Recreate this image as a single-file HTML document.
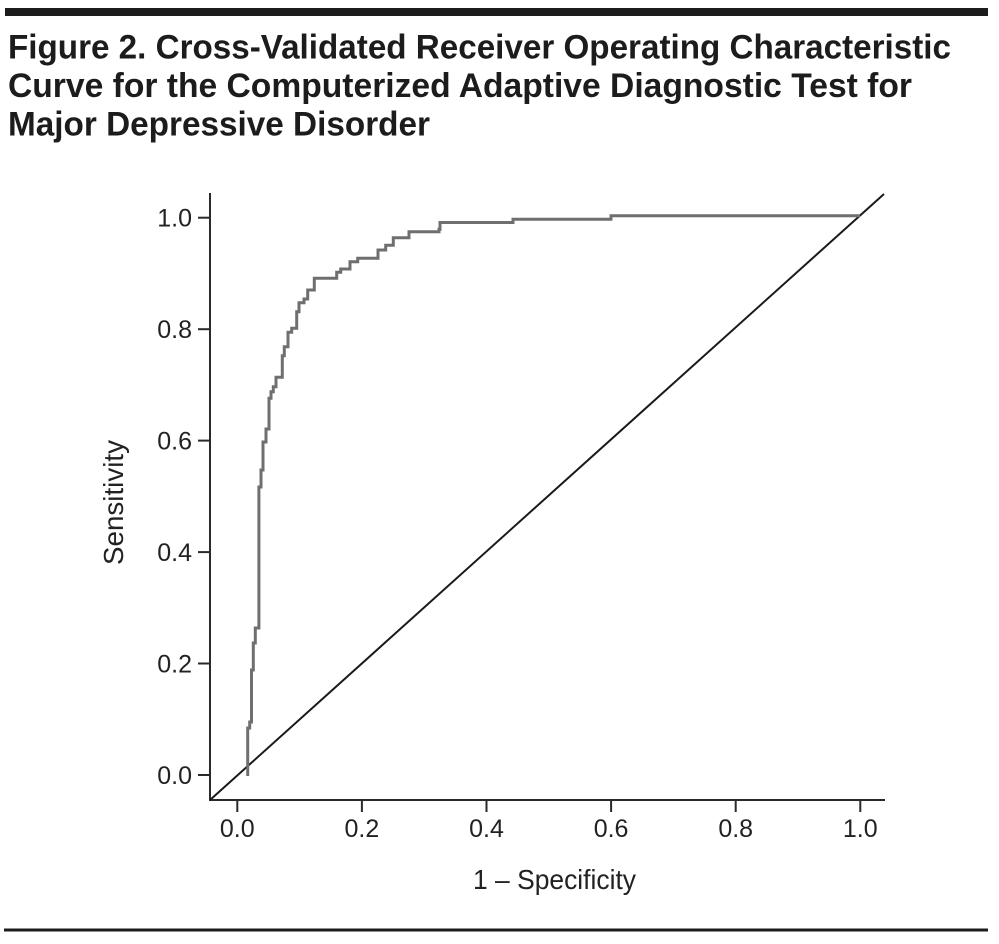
<!DOCTYPE html>
<html>
<head>
<meta charset="utf-8">
<style>
html,body{margin:0;padding:0;background:#fff;}
svg{display:block;}
</style>
</head>
<body>
<svg width="999" height="944" viewBox="0 0 999 944" xmlns="http://www.w3.org/2000/svg">
  <!-- top bar -->
  <rect x="5" y="8" width="983" height="8" fill="#1c1c1c"/>
  <!-- title -->
  <g font-family="Liberation Sans, sans-serif" font-weight="bold" font-size="34" fill="#1c1c1c">
    <text x="8" y="58.5" textLength="943" lengthAdjust="spacingAndGlyphs">Figure 2. Cross-Validated Receiver Operating Characteristic</text>
    <text x="8" y="97" textLength="904" lengthAdjust="spacingAndGlyphs">Curve for the Computerized Adaptive Diagnostic Test for</text>
    <text x="8" y="135.5" textLength="422" lengthAdjust="spacingAndGlyphs">Major Depressive Disorder</text>
  </g>

  <!-- axes -->
  <g stroke="#2a2a2a" stroke-width="2" fill="none">
    <line x1="210" y1="193" x2="210" y2="801"/>
    <line x1="209" y1="800" x2="885" y2="800"/>
    <!-- y ticks -->
    <line x1="198" y1="775" x2="210" y2="775"/>
    <line x1="198" y1="663.5" x2="210" y2="663.5"/>
    <line x1="198" y1="552.1" x2="210" y2="552.1"/>
    <line x1="198" y1="440.6" x2="210" y2="440.6"/>
    <line x1="198" y1="329.2" x2="210" y2="329.2"/>
    <line x1="198" y1="217.7" x2="210" y2="217.7"/>
    <!-- x ticks -->
    <line x1="237.3" y1="800" x2="237.3" y2="812"/>
    <line x1="361.9" y1="800" x2="361.9" y2="812"/>
    <line x1="486.5" y1="800" x2="486.5" y2="812"/>
    <line x1="611.1" y1="800" x2="611.1" y2="812"/>
    <line x1="735.7" y1="800" x2="735.7" y2="812"/>
    <line x1="860.3" y1="800" x2="860.3" y2="812"/>
  </g>

  <!-- tick labels -->
  <g font-family="Liberation Sans, sans-serif" font-size="25" fill="#222">
    <g text-anchor="end">
      <text x="192" y="784">0.0</text>
      <text x="192" y="672.5">0.2</text>
      <text x="192" y="561.1">0.4</text>
      <text x="192" y="449.6">0.6</text>
      <text x="192" y="338.2">0.8</text>
      <text x="192" y="226.7">1.0</text>
    </g>
    <g text-anchor="middle">
      <text x="237.3" y="837">0.0</text>
      <text x="361.9" y="837">0.2</text>
      <text x="486.5" y="837">0.4</text>
      <text x="611.1" y="837">0.6</text>
      <text x="735.7" y="837">0.8</text>
      <text x="860.3" y="837">1.0</text>
    </g>
  </g>

  <!-- axis labels -->
  <g font-family="Liberation Sans, sans-serif" font-size="28" fill="#222">
    <text x="554.5" y="889" text-anchor="middle" textLength="163" lengthAdjust="spacingAndGlyphs">1 – Specificity</text>
    <text transform="translate(123,502.5) rotate(-90)" text-anchor="middle" textLength="125" lengthAdjust="spacingAndGlyphs">Sensitivity</text>
  </g>

  <!-- diagonal reference -->
  <line x1="210" y1="800" x2="884" y2="194" stroke="#1a1a1a" stroke-width="2"/>

  <!-- ROC curve -->
  <path d="M247.7,776 V728 H249.7 V722 H251.5 V670 H253.3 V643 H255.3 V628 H258.9 V487 H261 V470 H263 V442 H266 V429 H269 V398.3 H271 V391.7 H273.3 V386.7 H276 V377.3 H282.3 V355.7 H284.3 V346.7 H288 V332.3 H291.7 V328.3 H296.7 V311.7 H299 V302.7 H304 V299 H307.7 V290 H314.3 V278.3 H336.7 V272.3 H340.7 V269 H350 V261.7 H357.7 V258.3 H378 V250 H385.7 V245.3 H393.3 V237.7 H409 V231.7 H439 V229.3 H440 V222.5 H513 V219.3 H611 V215.7 H860"
        fill="none" stroke="#6f6f6f" stroke-width="3" stroke-linejoin="miter"/>

  <!-- bottom rule -->
  <rect x="4" y="928.5" width="984" height="3" fill="#1c1c1c"/>
</svg>
</body>
</html>
